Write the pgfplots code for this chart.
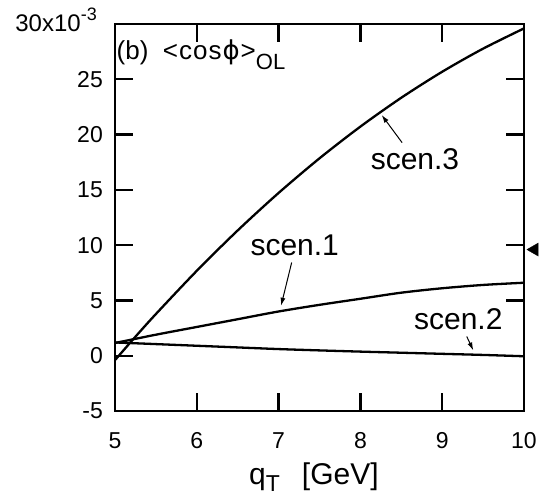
\documentclass[border=0pt]{standalone}
\usepackage{fontspec}
\setmainfont{Liberation Sans}
\newfontfamily\dejavu{DejaVu Sans}
\usepackage{pgfplots}
\pgfplotsset{compat=1.18}
\usetikzlibrary{arrows.meta}

\newcommand{\fs}[1]{\fontsize{#1}{#1}\selectfont}

\begin{document}
\begin{tikzpicture}
\begin{axis}[
  at={(0,0)}, anchor=south west,
  scale only axis, width=409pt, height=387pt,
  xmin=5, xmax=10, ymin=-5, ymax=30,
  xtick={5,6,7,8,9,10},
  xticklabels={5,6,7,8,9,10},
  ytick={-5,0,5,10,15,20,25,30},
  yticklabels={-5,0,5,10,15,20,25,{}},
  tick align=inside,
  major tick length=18pt,
  axis line style={line width=2.4pt},
  every tick/.style={black, line width=2.4pt},
  ticklabel style={font=\fs{23}},
  xticklabel style={inner sep=0pt, yshift=-21pt},
  yticklabel style={inner sep=0pt, xshift=-12pt},
  clip=false,
]
% scenario curves
\addplot[black, line width=2.3pt, smooth] coordinates {
  (5.00,-0.40) (5.25,1.72) (5.50,3.77) (6.00,7.68) (6.50,11.33) (7.00,14.72)
  (7.50,17.85) (8.00,20.72) (8.50,23.33) (9.00,25.68) (9.50,27.77) (10.00,29.60)};
\addplot[black, line width=2.3pt, smooth] coordinates {
  (5.00,1.15) (5.50,1.90) (6.00,2.60) (6.50,3.30) (7.00,4.00) (7.50,4.60)
  (8.00,5.15) (8.50,5.70) (9.00,6.10) (9.50,6.40) (10.00,6.60)};
\addplot[black, line width=2.3pt, smooth] coordinates {
  (5.00,1.20) (5.50,1.05) (6.00,0.90) (6.50,0.75) (7.00,0.60) (7.50,0.48)
  (8.00,0.37) (8.50,0.27) (9.00,0.17) (9.50,0.07) (10.00,-0.05)};

% pointer arrows
\addplot[black, line width=1pt, -{Latex[length=8pt,width=5pt]}] coordinates {(8.51,19.27) (8.26,21.77)};
\addplot[black, line width=1pt, -{Latex[length=8pt,width=5pt]}] coordinates {(7.16,8.43) (7.03,4.52)};
\addplot[black, line width=1pt, -{Latex[length=8pt,width=5pt]}] coordinates {(9.30,1.74) (9.38,0.48)};

% marker outside the right edge
\addplot[only marks, mark=triangle*, mark size=7.5pt, mark options={rotate=90, fill=black, draw=black}] coordinates {(10.128,9.6)};

\node[font=\fs{30}, inner sep=0pt] at (axis cs:8.667,17.78) {scen.3};
\node[font=\fs{30}, inner sep=0pt] at (axis cs:7.197,9.95) {scen.1};
\node[font=\fs{30}, inner sep=0pt] at (axis cs:9.197,3.34) {scen.2};

\node[anchor=base west, inner sep=0pt, font=\fs{26}] at (rel axis cs:0,1) [xshift=1.5pt, yshift=-35.3pt]
  {(b)\ \ {<}\hspace{1pt}c\hspace{1pt}o\hspace{1pt}s\hspace{1pt}{\dejavu ϕ}\hspace{1pt}{>}\raisebox{-10.7pt}{\fs{22}OL}};

\node[anchor=base east, inner sep=0pt, font=\fs{24}] at (rel axis cs:0,1) [xshift=-18pt, yshift=-8pt]
  {30x10\raisebox{11pt}{\fs{18}-3}};

\node[anchor=base west, inner sep=0pt, font=\fs{30}] at (rel axis cs:0,0) [xshift=134pt, yshift=-74pt]
  {q\raisebox{-7pt}{\fs{23}T}\hspace{22pt}[GeV]};
\end{axis}
\pgfresetboundingbox
\path (-115pt,-91pt) rectangle (424pt,411pt);
\end{tikzpicture}
\end{document}
